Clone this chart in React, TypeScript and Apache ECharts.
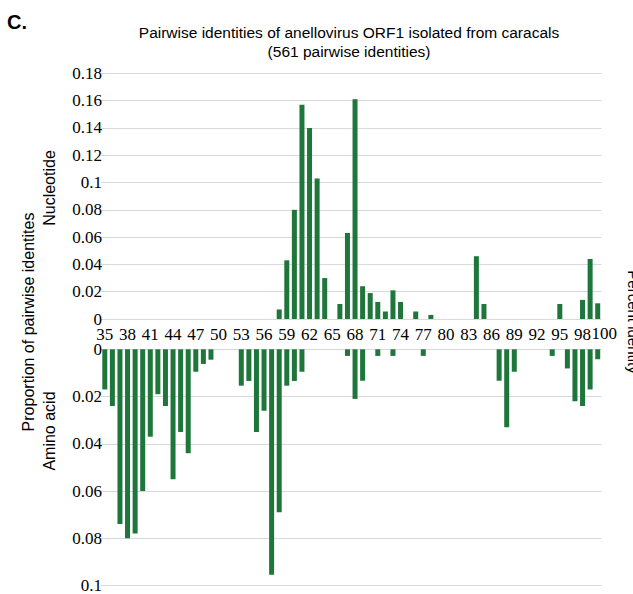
import React, { useEffect, useRef } from "react";
import * as echarts from "echarts";

const categories = [
  "35","36","37","38","39","40","41","42","43","44","45","46","47","48","49","50",
  "51","52","53","54","55","56","57","58","59","60","61","62","63","64","65","66",
  "67","68","69","70","71","72","73","74","75","76","77","78","79","80","81","82",
  "83","84","85","86","87","88","89","90","91","92","93","94","95","96","97","98",
  "99","100",
];

// Nucleotide proportions (35..100)
const nucleotide: (number | null)[] = [
  null,null,null,null,null,null,null,null,null,null,null,null,null,null,null,null, // 35-50
  null,null,null,null,null,null,null,0.007,0.043,0.080,0.157,0.140,0.103,0.030,null,0.011, // 51-66
  0.063,0.161,0.024,0.019,0.0125,0.0055,0.021,0.0125,null,0.0055,null,0.003,null,null,null,null, // 67-82
  null,0.046,0.011,null,null,null,null,null,null,null,null,null,0.011,null,null,0.014, // 83-98
  0.044,0.0115, // 99-100
];

// Amino acid proportions (35..100)
const aminoAcid: (number | null)[] = [
  0.017,0.024,0.074,0.080,0.078,0.060,0.037,0.019,0.024,0.055,0.035,0.044,0.0095,0.0062,0.0044,null, // 35-50
  null,null,0.0154,0.0134,0.035,0.026,0.0955,0.069,0.0154,0.0134,0.0095,null,null,null,null,null, // 51-66
  0.0028,0.021,0.0133,null,0.0028,null,0.0028,null,null,null,0.0028,null,null,null,null,null, // 67-82
  null,null,null,null,0.0133,0.033,0.0095,null,null,null,null,0.0028,null,0.0081,0.022,0.024, // 83-98
  0.017,0.0042, // 99-100
];

const BAR = "#1f763a";
const GRID = "#d9d9d9";
const NARROW_FAMILY = "Liberation Sans Narrow";
const NARROW = "'Liberation Sans Narrow', 'Arial Narrow', sans-serif";
const REG = "'Liberation Sans', Arial, sans-serif";

export default function App() {
  const ref = useRef<HTMLDivElement>(null);
  useEffect(() => {
    if (!ref.current) return;
    const chart = echarts.init(ref.current, undefined, { renderer: "svg" });
    const lastIdx = categories.length - 1;
    const yLabel = {
      fontSize: 17,
      fontFamily: NARROW_FAMILY,
      lineHeight: 13,
      color: "#000",
      margin: -1,
    };
    chart.setOption({
      animation: false,
      backgroundColor: "#fff",
      grid: [
        { left: 101, right: 31.5, top: 73.3, height: 245.7, containLabel: false },
        { left: 101, right: 31.5, top: 349.3, height: 238, containLabel: false },
      ],
      xAxis: [
        {
          gridIndex: 0,
          type: "category",
          data: categories,
          position: "bottom",
          axisLine: { show: false },
          axisTick: { show: false },
          splitLine: { show: false },
          axisLabel: {
            interval: (idx: number) => idx % 3 === 0,
            showMinLabel: true,
            fontSize: 17,
            fontFamily: NARROW_FAMILY,
            lineHeight: 13,
            color: "#000",
            margin: 9,
          },
        },
        {
          gridIndex: 1,
          type: "category",
          data: categories,
          position: "top",
          axisLine: { show: false },
          axisTick: { show: false },
          splitLine: { show: false },
          axisLabel: {
            interval: (idx: number) => idx === lastIdx,
            showMinLabel: false,
            showMaxLabel: true,
            formatter: (v: string) => "{s|" + v + "}",
            rich: {
              s: { padding: [0, 0, 0, 13], fontSize: 17, fontFamily: NARROW_FAMILY, lineHeight: 13, color: "#000" },
            },
            fontSize: 17,
            fontFamily: NARROW_FAMILY,
            lineHeight: 13,
            color: "#000",
            margin: 9,
          },
        },
      ],
      yAxis: [
        {
          gridIndex: 0,
          type: "value",
          min: 0,
          max: 0.18,
          interval: 0.02,
          axisLine: { show: false },
          axisTick: { show: false },
          splitLine: { show: true, lineStyle: { color: GRID, width: 1 } },
          axisLabel: yLabel,
        },
        {
          gridIndex: 1,
          type: "value",
          min: 0,
          max: 0.1,
          interval: 0.02,
          inverse: true,
          axisLine: { show: false },
          axisTick: { show: false },
          splitLine: { show: true, lineStyle: { color: GRID, width: 1 } },
          axisLabel: yLabel,
        },
      ],
      series: [
        {
          type: "bar",
          name: "Nucleotide",
          xAxisIndex: 0,
          yAxisIndex: 0,
          data: nucleotide,
          barWidth: 5,
          itemStyle: { color: BAR },
        },
        {
          type: "bar",
          name: "Amino acid",
          xAxisIndex: 1,
          yAxisIndex: 1,
          data: aminoAcid,
          barWidth: 5,
          itemStyle: { color: BAR },
        },
      ],
      graphic: [
        {
          type: "text",
          x: 7,
          y: 22,
          style: { text: "C.", font: "bold 20px " + NARROW, fill: "#000", textVerticalAlign: "middle" },
        },
        {
          type: "text",
          x: 349,
          y: 32,
          style: {
            text: "Pairwise identities of anellovirus ORF1 isolated from caracals",
            font: "15.5px " + NARROW,
            fill: "#000",
            textAlign: "center",
            textVerticalAlign: "middle",
          },
        },
        {
          type: "text",
          x: 349,
          y: 51,
          style: {
            text: "(561 pairwise identities)",
            font: "15.5px " + NARROW,
            fill: "#000",
            textAlign: "center",
            textVerticalAlign: "middle",
          },
        },
        {
          type: "text",
          x: 28,
          y: 322,
          rotation: Math.PI / 2,
          style: {
            text: "Proportion of pairwise identites",
            font: "16px " + REG,
            fill: "#000",
            textAlign: "center",
            textVerticalAlign: "middle",
          },
        },
        {
          type: "text",
          x: 49,
          y: 188,
          rotation: Math.PI / 2,
          style: { text: "Nucleotide", font: "16px " + REG, fill: "#000", textAlign: "center", textVerticalAlign: "middle" },
        },
        {
          type: "text",
          x: 49,
          y: 431,
          rotation: Math.PI / 2,
          style: { text: "Amino acid", font: "16px " + REG, fill: "#000", textAlign: "center", textVerticalAlign: "middle" },
        },
        {
          type: "text",
          x: 633,
          y: 322,
          rotation: -Math.PI / 2,
          style: { text: "Percent identity", font: "15px " + NARROW, fill: "#000", textAlign: "center", textVerticalAlign: "middle" },
        },
      ],
    });
    return () => chart.dispose();
  }, []);
  return <div ref={ref} style={{ position: "fixed", left: 0, top: 0, width: 633, height: 594 }} />;
}
